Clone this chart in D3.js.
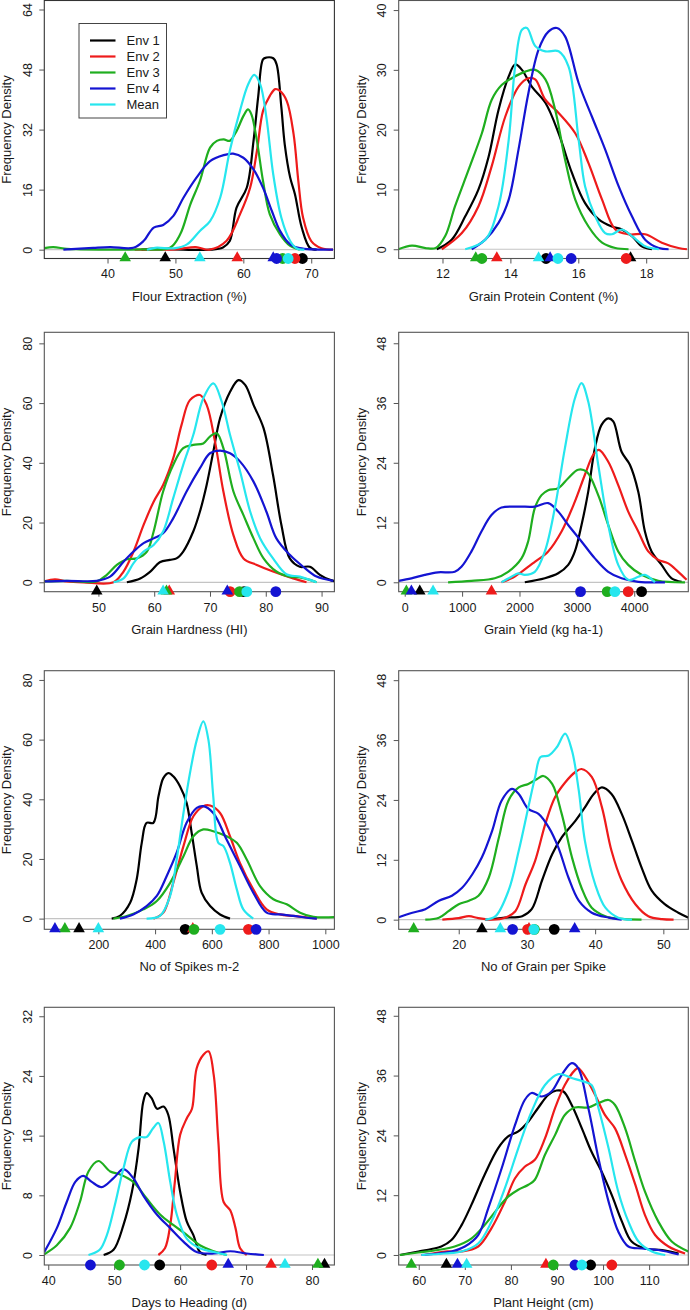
<!DOCTYPE html>
<html>
<head>
<meta charset="utf-8">
<script src="https://cdn.jsdelivr.net/npm/d3@7"></script>
<style>
  body { margin: 0; background: #fff; }
  svg { display: block; font-family: "Liberation Sans", Arial, sans-serif; }
</style>
</head>
<body>
<svg id="chart" width="690" height="1310"></svg>
<script>
// --- series ---
const seriesNames = ["Env 1", "Env 2", "Env 3", "Env 4", "Mean"];
const seriesColors = ["#000000", "#ee1b1b", "#1fae1f", "#1414d2", "#26e6ee"];

// --- axis labels / ticks ---
const xTitles = ["Flour Extraction (%)", "Grain Protein Content (%)", "Grain Hardness (HI)", "Grain Yield (kg ha-1)",
                 "No of Spikes m-2", "No of Grain per Spike", "Days to Heading (d)", "Plant Height (cm)"];
const xTickSets = [[40,50,60,70], [12,14,16,18], [50,60,70,80,90], [0,1000,2000,3000,4000],
                   [200,400,600,800,1000], [20,30,40,50], [40,50,60,70,80], [60,70,80,90,100,110]];
const yTickSets = [[0,16,32,48,64], [0,10,20,30,40], [0,20,40,60,80], [0,12,24,36,48],
                   [0,20,40,60,80], [0,12,24,36,48], [0,8,16,24,32], [0,12,24,36,48]];
// axis limits (value at box edges)
const xLims = [[30.69,73.41], [10.71,19.24], [40.3,92.3], [-105,4942],
               [9.5,1032], [11.2,53.66], [39.4,83.4], [55.65,118.5]];
const yLims = [[-2.35,66.4], [-1.55,41.6], [-3.15,83.7], [-1.89,50.2],
               [-3.58,83.1], [-1.93,49.9], [-1.34,33.2], [-2.01,49.7]];

// --- density curves, [value, density], order Env1, Env2, Env3, Env4, Mean ---
const flourCurves = [
  [[45,0],[47,0.3],[50,0.1],[55.1,0],[57,0.6],[58,2.3],[59,11.2],[60.5,16.5],[61.5,29],[62.2,41],[62.9,50.7],[63.4,51.2],[64.4,51],[64.9,49.4],[65.6,37.9],[66.1,28],[66.9,19.2],[67.6,14.8],[68.6,5.9],[69.8,0.5],[70.8,0]],
  [[44,0],[50,0.1],[53,0.7],[55,0],[57.5,2.3],[59.5,9.4],[61,16.5],[62,26.3],[62.9,37],[63.9,41],[64.7,42.8],[65.4,42.3],[66.4,39.6],[67.4,30.8],[68.1,18.3],[68.8,8.5],[70,2.3],[71.5,0.4],[73.2,0]],
  [[30.7,0.4],[32,0.7],[34,0.2],[36,0.1],[45,0.1],[49.2,0.5],[50.7,4.1],[52.2,12.1],[53.6,18.3],[55.1,27.2],[56.1,29],[57.1,29.4],[58,29],[59,31.6],[60,35.6],[60.7,37.4],[61.2,36],[62,29],[62.9,18.3],[63.9,9.4],[65.4,4.1],[66.9,1],[68.3,0]],
  [[33.5,0],[37.9,0.5],[40.4,0.7],[43.8,0.5],[45.3,2.3],[46.8,5.9],[48.2,6.6],[49.7,9],[51.2,13.9],[53.1,19.2],[55.1,23.6],[57.1,25.2],[58.5,25.6],[60,24.5],[61.5,21.4],[62.9,16.5],[64.2,10.3],[65.4,5],[66.9,1.4],[68.3,0.4],[73.2,0]],
  [[45.8,0],[47,0.5],[50,0.4],[51.7,1.4],[53.6,5],[55.1,7.6],[56.6,13.9],[58,26.3],[59.5,37],[60.7,44],[61.6,46.6],[62.5,44],[63.4,35.2],[64.4,20.1],[65.6,8.5],[66.9,2.3],[67.8,0.4],[69,0]]
];
const proteinCurves = [
  [[11.83,0],[12.27,1.6],[12.67,5.5],[13.06,10],[13.36,15.5],[13.65,23.3],[13.95,28.9],[14.14,30.9],[14.34,30],[14.63,27.2],[15.03,24.5],[15.42,19.4],[15.81,12.8],[16.2,7.7],[16.6,5],[16.99,3.8],[17.28,3.3],[17.58,2.2],[17.87,0.5],[18.17,0]],
  [[11.98,0],[12.57,2.7],[13.06,7.2],[13.45,13.9],[13.85,22.2],[14.24,27.2],[14.53,28.6],[14.73,28.4],[15.03,25],[15.42,22.8],[15.91,19.4],[16.3,14.4],[16.7,8.3],[17.09,3.3],[17.48,2.5],[17.97,2.5],[18.46,1.1],[18.95,0.2],[19.2,0]],
  [[10.7,0],[11.1,0.6],[11.5,0.2],[11.8,0.2],[12.08,2.2],[12.37,7.2],[12.77,13.3],[13.16,19.4],[13.45,25],[13.75,27.5],[14.04,28.6],[14.44,29.7],[14.73,30],[15.03,28.4],[15.32,23.3],[15.61,15],[15.91,8.3],[16.3,3.8],[16.7,1.1],[17.09,0.2],[17.48,0]],
  [[12.86,0],[13.26,1.6],[13.65,4.4],[13.95,8.3],[14.24,16.7],[14.53,26.1],[14.83,33.4],[15.12,36.4],[15.37,37],[15.61,35.6],[16.01,27.8],[16.4,22.2],[16.79,16.7],[17.19,10.5],[17.58,5.5],[17.97,1.6],[18.37,0.2],[18.66,0]],
  [[12.67,0],[13.26,1.6],[13.65,7.2],[13.95,18.3],[14.14,30.6],[14.34,36.7],[14.49,37],[14.73,34],[15.03,33.1],[15.42,33.1],[15.71,30.6],[16.01,18.3],[16.2,10.5],[16.5,5.5],[16.79,2.7],[16.99,2.5],[17.28,3.3],[17.58,2.2],[17.97,0.5],[18.37,0]]
];
const hardnessCurves = [
  [[55.1,0],[57.5,1.3],[59.3,3.6],[61,6.7],[62.8,7.5],[64,8],[65.2,10.3],[67,17],[68.2,23.7],[69.4,32.6],[70.6,43.8],[71.8,54.9],[73.6,63.8],[75.1,67.7],[76.3,66.1],[77.8,59.4],[79.6,51.6],[81.3,35.9],[82.8,19.2],[84.3,8],[86.1,5.2],[87.9,5.2],[89.7,2.5],[91.5,0.8],[92.3,0.4]],
  [[40.3,0.3],[42.2,1],[44.3,0.3],[47.3,0],[52.7,0],[54.5,3.6],[56.3,10.3],[58.1,19.2],[59.9,27],[61.6,32.6],[63.4,41.5],[64.9,52.7],[66.4,61],[68.2,62.7],[69.4,59.4],[70.9,47.1],[72.4,30.4],[74.2,15.8],[76,8],[78.4,5.8],[81.3,3.6],[84.9,1.3],[87.3,0]],
  [[40.3,0.3],[44.3,0.5],[49.7,0.3],[51.5,2.5],[53.3,5.8],[55.1,7.7],[56.9,8],[58.7,10.3],[59.9,17],[61.6,30.4],[63.4,39.3],[65.2,44.9],[67,46],[68.8,46.5],[70,48.8],[71.2,49.9],[72.4,44.9],[74.2,30.4],[76,22.5],[77.8,14.7],[79.6,8],[81.9,3.6],[84.3,1.9],[86.1,1.6],[87.9,0.8],[89.1,0]],
  [[40.3,0.3],[44.3,0.5],[49.7,0.5],[52.1,1.9],[54.5,6.9],[56.3,10.3],[58.1,13.1],[59.9,14.7],[61.6,16.4],[63.4,21.4],[65.8,30.4],[68.2,38.2],[70,43.2],[71.8,44.1],[73.6,43.2],[75.4,40.4],[77.8,33.7],[80.1,23.7],[81.9,14.7],[84.3,9.2],[86.7,5.2],[89.1,1.9],[92.1,0.5]],
  [[52.7,0],[54.5,1.3],[56.3,6.4],[58.1,10.3],[59.9,12.5],[61.6,17],[63.4,28.1],[65.2,39.3],[67,49.3],[68.8,61.6],[70.6,66.6],[72.1,60.5],[73.6,49.3],[75.4,37.1],[77.2,23.7],[79,14.7],[81.3,8],[83.7,2.7],[86.1,1.9],[87.9,0.8],[89.1,0]]
];
const yieldCurves = [
  [[2093,0],[2442,0.8],[2674,1.8],[2849,3.5],[2965,6.2],[3081,11.5],[3198,18.2],[3314,26.9],[3430,31.6],[3547,32.9],[3634,32.3],[3779,26.2],[3924,23.6],[4070,18.2],[4186,10.2],[4302,6.2],[4477,3.5],[4651,0.8],[4826,0.1]],
  [[1686,0],[1860,0.8],[2035,2.1],[2267,4.1],[2500,6.2],[2733,10.2],[2965,16.2],[3140,21.6],[3285,25.6],[3384,26.6],[3547,24.2],[3721,19.5],[3895,14.2],[4070,10.2],[4244,6.2],[4419,4.5],[4593,3.8],[4767,2.1],[4913,0.5]],
  [[756,0],[1163,0.3],[1570,0.8],[1802,2.1],[2035,4.8],[2151,8.2],[2267,14.9],[2384,17.5],[2500,18.5],[2674,18.9],[2849,20.9],[3023,22.6],[3169,22.2],[3372,17.5],[3547,11.5],[3721,6.2],[3895,3.5],[4128,1.5],[4419,0.3],[4884,0]],
  [[-105,0.3],[116,0.8],[349,1.5],[581,2],[872,2.1],[988,3.1],[1163,6.2],[1337,10.2],[1512,13.5],[1686,15],[1977,15.2],[2267,15.2],[2500,15.9],[2674,14.2],[2849,11.5],[3081,8.2],[3314,4.8],[3547,2.1],[3779,0.8],[4070,0.1],[4535,0]],
  [[1686,0],[1860,1.1],[1977,1.8],[2093,1.5],[2267,2.1],[2442,6.2],[2616,14.9],[2791,26.9],[2965,36.9],[3081,40],[3198,36.3],[3372,23.6],[3547,11.5],[3721,3.5],[3895,0.5],[4070,1.1],[4186,1.5],[4360,0]]
];
const spikesCurves = [
  [[247,0],[276,0.9],[312,5.3],[335,13.1],[353,25.4],[370,32.1],[394,32.1],[412,41],[429,47.1],[447,48.8],[464,47.7],[488,44.3],[511,38.8],[529,28.7],[547,17.6],[564,8.7],[594,4.2],[629,1.4],[664,0]],
  [[394,0],[429,2],[464,12],[500,24.3],[535,34.3],[570,37.7],[594,37.9],[629,35.4],[664,27.6],[699,18.7],[746,9.8],[793,3.1],[840,1.4],[887,0.9],[946,0.3],[970,0]],
  [[253,0],[300,0.9],[359,3.1],[406,5.9],[453,12],[500,20.9],[535,27.6],[570,29.9],[605,29.3],[652,27.6],[688,25.4],[723,19.8],[770,10.9],[817,6.5],[864,4.8],[911,2],[958,0.6],[1032,0.5]],
  [[276,0],[323,1.4],[370,4.2],[406,7.6],[441,14.3],[476,22.1],[511,32.1],[547,37.1],[570,37.7],[605,35.4],[652,26.5],[699,17.6],[746,8.7],[793,2],[840,1.4],[887,0.9],[934,0.3],[970,0]],
  [[370,0],[417,0.9],[453,7.6],[476,19.8],[500,35.4],[523,48.8],[547,59.9],[570,66.1],[588,59.9],[605,41],[623,25.4],[641,24.3],[664,18.7],[688,9.8],[711,3.1],[746,0]]
];
const grainCurves = [
  [[23.9,0],[26.8,0.4],[29.3,0.7],[30.7,2.1],[32.2,7.8],[33.7,13.1],[35.1,16.5],[37.1,19.8],[38.5,22.5],[39.8,25.2],[41,26.5],[42.4,25.2],[43.9,21.2],[45.4,15.8],[46.8,10.5],[48.3,5.8],[50.2,3.1],[52.2,1.4],[53.7,0.4]],
  [[17.6,0],[20,0.3],[21.5,0.7],[22.9,0.3],[24.9,0],[26.8,0.4],[28.3,1.7],[29.8,7.1],[31.2,11.8],[32.7,19.2],[34.1,24.5],[35.6,27.5],[37.1,29.6],[38,30.2],[39.5,28.6],[41,22.5],[42.4,13.8],[43.9,7.8],[45.9,3.1],[47.8,0.7],[49.8,0.1],[51.5,0]],
  [[15.1,0],[17.1,0.4],[18.5,1.7],[20,3.1],[21.5,3.8],[22.9,4.8],[24.4,8.4],[25.9,16.5],[27.3,23.9],[28.8,26.5],[30.2,27.2],[31.5,28.2],[32.4,28.8],[33.7,27.2],[35.1,21.2],[36.6,12.5],[38,6.4],[39.5,2.4],[41.5,0.7],[43.4,0.2],[46.8,0]],
  [[11.2,0.5],[13.2,1.4],[15.1,2.1],[17.1,3.8],[19,4.8],[20.5,6.4],[22,9.1],[23.4,12.5],[24.9,17.8],[26.3,23.9],[27.8,26.2],[28.8,25.2],[30.2,22.2],[31.7,21.2],[33.2,18.5],[34.6,14.5],[36.1,8.4],[37.6,3.8],[39.5,1.4],[42,0.4],[43.9,0]],
  [[23.9,0],[25.4,0.7],[27.3,5.8],[28.8,13.8],[30.2,22.5],[31.2,28.6],[32,32.6],[33.2,32.9],[34.4,34.6],[35.6,37.3],[36.6,33.9],[37.6,25.9],[38.5,15.8],[40,7.1],[41.5,2.4],[43.4,0.4],[45.4,0]]
];
const headingCurves = [
  [[48.4,0],[49.9,0.7],[51.4,4],[52.7,8.5],[53.7,14.3],[54.4,20.5],[54.9,21.7],[55.7,21],[56.5,19.6],[57.5,19.9],[58.2,18.8],[59,14.3],[60,8.5],[61,4.5],[62,2.7],[63,0.4],[64,0]],
  [[56.7,0],[57.7,0.9],[58.5,4],[59.2,9.8],[60,16.1],[61,18.3],[61.8,19.6],[62.5,25],[63.5,26.8],[64.3,27.3],[65.1,24.1],[65.8,15.2],[66.6,7.1],[67.6,6],[68.4,3.6],[69.1,0.9],[70.1,0]],
  [[39.4,0.1],[41.3,1.3],[43.3,3.6],[44.8,7.1],[46.1,11.2],[47.6,12.6],[49.4,11.2],[50.9,10.8],[52.9,9.8],[54.9,7.6],[57,5.4],[59,4],[61,2.7],[63,1.3],[65.1,0.5],[67.1,0]],
  [[39.4,0.4],[41.3,3.6],[42.8,7.1],[44.1,9.8],[45.3,10.6],[46.6,9.8],[48.1,9.1],[49.9,10.3],[51.4,11.5],[52.9,10.3],[54.4,8],[56.5,5.4],[58.5,3.6],[60.5,1.8],[62.5,0.4],[65.1,0.2],[67.6,0.5],[70.1,0.2],[72.7,0]],
  [[46.1,0],[47.8,0.7],[48.9,2.7],[50.1,6.7],[51.4,11.6],[52.7,15.2],[53.9,15.8],[54.9,15.8],[55.9,17],[56.7,17.7],[57.5,15.2],[58.5,9.8],[59.5,5.4],[61,2.2],[63,0.9],[65.1,0.4],[67.1,0]]
];
const heightCurves = [
  [[55.9,0],[59.9,0.7],[62.8,1.2],[64.9,1.7],[67.1,3],[69.3,6],[71.4,10],[74.3,16.1],[77.2,21.4],[79.4,23.8],[81.6,24.8],[83.8,26.8],[85.9,29.5],[88.1,32.1],[89.9,33],[91.4,32.8],[93.2,30.1],[95.4,25.4],[97.5,20.7],[99.7,16.7],[101.9,12],[104.1,6.7],[106.2,2.7],[109.1,1.3],[112.8,1],[116.4,0.3]],
  [[61.3,0],[65.7,0.7],[69.3,0.7],[72.9,1.7],[75.8,5.4],[78.7,10.7],[80.9,15.4],[83,17.7],[85.2,19.1],[87.4,23.4],[89.6,29.5],[91.7,34.1],[93.9,37.1],[94.6,37.5],[96.1,35.8],[98.3,32.1],[100.4,28.1],[102.6,25.4],[104.8,20.1],[107,14.1],[109.1,8],[111.3,4],[114.2,1.7],[117.8,0.3]],
  [[55.9,0],[59.9,0.5],[64.2,1],[67.8,1.7],[71.4,3.3],[74.3,6],[77.2,9.4],[79.4,11.7],[81.6,13.1],[83.8,14.1],[85.2,15.1],[87.4,20.1],[89.6,24.1],[91.7,28.1],[93.9,29.6],[96.8,29.6],[99,30.5],[101.2,31.1],[102.6,30.1],[104.8,25.4],[107,18.7],[109.1,12.7],[112,6.7],[114.9,2.7],[118.5,0.7]],
  [[60.6,0],[64.2,0.3],[67.1,0.7],[70,1.7],[72.9,4],[75.1,9.4],[78,17.4],[80.9,26.1],[83,31.1],[84.5,32.5],[86.7,31.8],[88.8,32.8],[91,36.1],[93.2,38.5],[94.6,37.5],[96.8,29.5],[99,19.4],[101.2,10.7],[103.3,4.7],[105.5,1.7],[108.4,1.3],[112,1],[116.4,0.1]],
  [[60.6,0],[65.7,0.3],[69.3,0.7],[72.9,2.3],[75.8,6.7],[78.7,13.4],[81.6,21.4],[84.5,28.8],[87.4,34.1],[90.3,36.3],[93.2,35.5],[95.4,34.9],[97.5,34.1],[99,29.5],[101.2,21.4],[103.3,12.7],[105.5,6.7],[107.7,2.7],[110.6,0.7],[113.5,0]]
];

// --- marker positions on the axis (triangle / circle), order Env1..Mean ---
const triangleSets = [
  [48.5,59.1,42.6,64.4,53.6], [17.54,13.6,12.98,15.17,14.83], [49.7,62.7,62.2,73.1,61.6], [262,1512,29,116,494],
  [132,533,82,47,200], [23.4,30.3,13.4,37,26.1], [81.9,73.8,80.9,67.3,75.9], [66,87.6,58.4,68.4,70.4]
];
const circleSets = [
  [68.7,67.6,65.8,64.9,66.6], [15.05,17.41,13.16,15.79,15.4], [76.1,73.6,75.3,81.8,76.6], [4128,3895,3529,3064,3663],
  [506,729,537,756,629], [34,30.1,31.1,27.9,31], [56.9,64.8,50.8,46.4,54.6], [97.3,101.9,89.2,93.9,95.4]
];
const curveSets = [flourCurves, proteinCurves, hardnessCurves, yieldCurves, spikesCurves, grainCurves, headingCurves, heightCurves];

// --- layout ---
const cols = [{ l: 44.3, r: 334.4 }, { l: 398.7, r: 688.3 }];
const rows = [{ t: 0.5, b: 258.5 }, { t: 332.3, b: 591.7 }, { t: 670.7, b: 929.3 }, { t: 1007.3, b: 1265 }];
const textColor = "#1a1a1a";

const svg = d3.select("#chart");

curveSets.forEach((curves, i) => {
  const c = cols[i % 2], r = rows[Math.floor(i / 2)];
  const x = d3.scaleLinear().domain(xLims[i]).range([c.l, c.r]);
  const y = d3.scaleLinear().domain(yLims[i]).range([r.b, r.t]);
  const g = svg.append("g");

  const clipId = "clip" + i;
  g.append("clipPath").attr("id", clipId)
    .append("rect").attr("x", c.l).attr("y", r.t).attr("width", c.r - c.l).attr("height", r.b - r.t);

  // zero line
  g.append("line")
    .attr("x1", c.l).attr("x2", c.r).attr("y1", y(0)).attr("y2", y(0))
    .attr("stroke", "#c4c4c4").attr("stroke-width", 1.2);

  // density curves
  const line = d3.line().x(d => x(d[0])).y(d => y(Math.max(0, d[1]))).curve(d3.curveCatmullRom.alpha(0.5));
  g.append("g").attr("clip-path", `url(#${clipId})`)
    .selectAll("path").data(curves).enter().append("path")
    .attr("d", line)
    .attr("fill", "none")
    .attr("stroke", (d, k) => seriesColors[k])
    .attr("stroke-width", 2.2)
    .attr("stroke-linejoin", "round");

  // frame
  g.append("rect")
    .attr("x", c.l).attr("y", r.t).attr("width", c.r - c.l).attr("height", r.b - r.t)
    .attr("fill", "none").attr("stroke", i === 0 ? "#333" : "#555").attr("stroke-width", 1.1);

  // axes
  const xAxis = g.append("g").attr("transform", `translate(0,${r.b})`)
    .call(d3.axisBottom(x).tickValues(xTickSets[i]).tickSize(5).tickPadding(6).tickFormat(d3.format("d")));
  xAxis.select(".domain").remove();
  xAxis.selectAll("line").attr("stroke", "#555");
  xAxis.selectAll("text").attr("fill", textColor).style("font-size", "12.5px")
    .style("font-family", "'Liberation Sans', Arial, sans-serif");

  const yAxis = g.append("g").attr("transform", `translate(${c.l},0)`)
    .call(d3.axisLeft(y).tickValues(yTickSets[i]).tickSize(5).tickFormat(d3.format("d")));
  yAxis.select(".domain").remove();
  yAxis.selectAll("line").attr("stroke", "#555");
  yAxis.selectAll("text")
    .attr("x", 0).attr("dy", 0)
    .attr("text-anchor", "middle")
    .attr("transform", "translate(-12.5,0) rotate(-90)")
    .attr("fill", textColor).style("font-size", "12.5px")
    .style("font-family", "'Liberation Sans', Arial, sans-serif");

  // titles
  g.append("text")
    .attr("x", (c.l + c.r) / 2).attr("y", r.b + 42)
    .attr("text-anchor", "middle").attr("fill", textColor).style("font-size", "13px")
    .text(xTitles[i]);
  g.append("text")
    .attr("transform", `translate(${c.l - 33},${(r.t + r.b) / 2}) rotate(-90)`)
    .attr("text-anchor", "middle").attr("fill", textColor).style("font-size", "13px")
    .text("Frequency Density");

  // markers on the axis
  const tri = d3.symbol().type(d3.symbolTriangle).size(58);
  const dot = d3.symbol().type(d3.symbolCircle).size(92);
  seriesNames.forEach((s, k) => {
    g.append("path").attr("d", tri())
      .attr("transform", `translate(${x(triangleSets[i][k])},${r.b - 0.5})`)
      .attr("fill", seriesColors[k]);
    g.append("path").attr("d", dot())
      .attr("transform", `translate(${x(circleSets[i][k])},${r.b})`)
      .attr("fill", seriesColors[k]);
  });
});

// legend (first panel)
const lg = svg.append("g");
lg.append("rect").attr("x", 79).attr("y", 23.5).attr("width", 87.5).attr("height", 94.5)
  .attr("fill", "#fff").attr("stroke", "#444").attr("stroke-width", 1);
seriesNames.forEach((s, k) => {
  const yy = 40.5 + k * 16;
  lg.append("line").attr("x1", 90).attr("x2", 115.5).attr("y1", yy).attr("y2", yy)
    .attr("stroke", seriesColors[k]).attr("stroke-width", 2.2);
  lg.append("text").attr("x", 126.5).attr("y", yy + 4.6)
    .attr("fill", textColor).style("font-size", "13px").text(s);
});
</script>
</body>
</html>
